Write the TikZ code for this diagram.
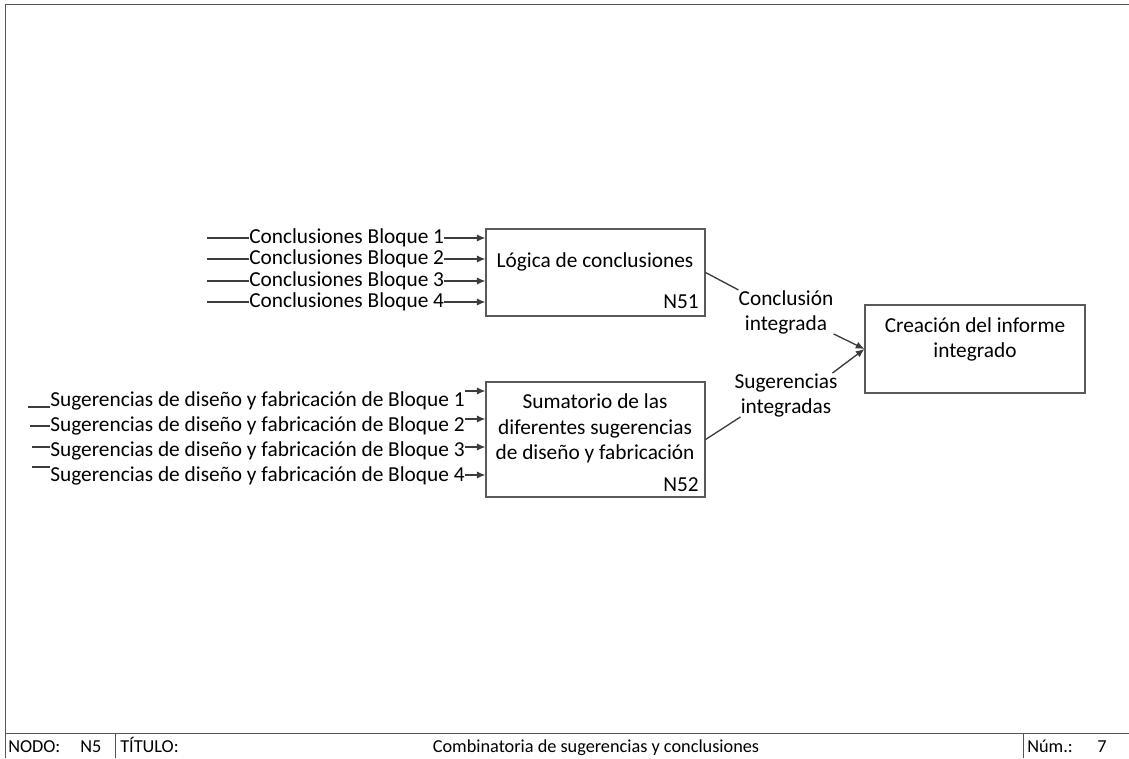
\documentclass[tikz,border=0pt]{standalone}
\usepackage{fontspec}
\setmainfont{Carlito}
\usetikzlibrary{arrows.meta}
\definecolor{wire}{HTML}{3C3C3C}
\definecolor{edge}{HTML}{5A5A5A}
\definecolor{frame}{HTML}{555555}
\begin{document}
\begin{tikzpicture}[x=0.75pt,y=-0.75pt,
  every node/.style={inner sep=0pt, font=\fontsize{16}{19.5}\selectfont},
  lbl/.style={anchor=base},
  proc/.style={draw=edge, line width=0.8pt},
  flow/.style={draw=wire, line width=1pt},
  into/.style={flow, -{Latex[length=6.5pt,width=5.5pt]}},
  foot/.style={anchor=base west, font=\fontsize{13.7}{16}\selectfont},
  rule/.style={draw=frame, line width=1pt}]
\useasboundingbox (0,0) rectangle (1129,758);

% sheet frame and footer rules
\draw[rule] (5.5,758) -- (5.5,4.5) -- (1129,4.5);
\draw[rule] (5.5,733.5) -- (1129,733.5);
\draw[rule] (115.5,733.5) -- (115.5,758);
\draw[rule] (1023.5,733.5) -- (1023.5,758);

\node[foot] (fnodo) at (8,752) {NODO:};
\node[foot] (fnum) at (80,752) {N5};
\node[foot] (ftit) at (120,752) {TÍTULO:};
\node[foot, anchor=base] (fname) at (596,752) {Combinatoria de sugerencias y conclusiones};
\node[foot] (fnm) at (1027,752) {Núm.:};
\node[foot] (fpg) at (1097,752) {7};

% activity boxes
\node[proc, minimum width=164.25pt, minimum height=65.25pt] (n51) at (595.5,272.5) {};
\node[proc, minimum width=164.25pt, minimum height=86.25pt] (n52) at (595.5,439.5) {};
\node[proc, minimum width=165pt, minimum height=66pt] (cr) at (975,349) {};

\node[lbl] (n51t) at (595,267) {Lógica de conclusiones};
\node[anchor=base east] (n51id) at (699,308) {N51};

\node[lbl] (n52a) at (595,408) {Sumatorio de las};
\node[lbl] (n52b) at (595,434) {diferentes sugerencias};
\node[lbl] (n52c) at (595,459) {de diseño y fabricación};
\node[anchor=base east] (n52id) at (699,491) {N52};

\node[lbl] (cra) at (975,332) {Creación del informe};
\node[lbl] (crb) at (975,357) {integrado};

% inputs to N51
\foreach \i/\y in {1/243,2/264,3/286,4/307}{
  \node[anchor=base west] (c\i) at (249,\y) {Conclusiones Bloque \i};
  \coordinate (cs\i) at (207,\y-5);
  \draw[flow] (cs\i) -- (cs\i -| c\i.west);
  \draw[into] (c\i.east |- cs\i) -- (cs\i -| n51.west);
}

% inputs to N52
\foreach \i/\y/\s/\a/\x in {1/406/407/391/28,2/431/426/419/30,3/456/447/447/32,4/481/467/475/32}{
  \node[anchor=base west] (s\i) at (50,\y) {Sugerencias de diseño y fabricación de Bloque \i};
  \coordinate (ss\i) at (\x,\s);
  \coordinate (sa\i) at (486,\a);
  \draw[flow] (ss\i) -- (ss\i -| s\i.west);
  \draw[into] (s\i.east |- sa\i) -- (sa\i -| n52.west);
}

% outputs towards the report
\node[lbl] (oc1) at (786,305) {Conclusión};
\node[lbl] (oc2) at (786,330) {integrada};
\node[lbl] (os1) at (786,388) {Sugerencias};
\node[lbl] (os2) at (786,413) {integradas};

\draw[flow] (n51.east) -- (oc1.north west);
\draw[into] (oc1.east |- oc2.south) -- (cr.west);
\draw[flow] (n52.east) -- (os2.south west);
\draw[into] ([xshift=-4pt]os1.north east) -- (cr.west);
\end{tikzpicture}
\end{document}
